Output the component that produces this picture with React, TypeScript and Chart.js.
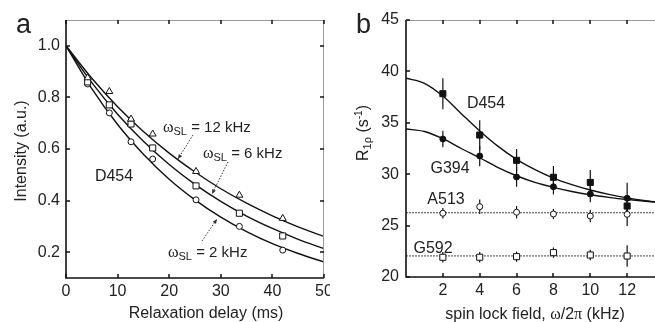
import React, { useEffect, useRef } from 'react';
import { Chart, registerables } from 'chart.js';
Chart.register(...registerables);

// ---------- Panel a data ----------
const delaysMs = [4.2, 8.4, 12.6, 16.8, 25.2, 33.6, 42];
const int12kHz = [0.876, 0.823, 0.716, 0.658, 0.513, 0.421, 0.331];
const int6kHz = [0.86, 0.771, 0.697, 0.604, 0.457, 0.351, 0.263];
const int2kHz = [0.852, 0.74, 0.628, 0.561, 0.403, 0.3, 0.208];
const fitDelaysMs = [0, 5, 10, 15, 20, 25, 30, 35, 40, 45, 50];
const fit12kHz = [1, 0.874, 0.764, 0.668, 0.584, 0.511, 0.446, 0.39, 0.341, 0.298, 0.261];
const fit6kHz = [1, 0.857, 0.735, 0.63, 0.54, 0.463, 0.397, 0.34, 0.292, 0.25, 0.214];
const fit2kHz = [1, 0.834, 0.695, 0.58, 0.483, 0.403, 0.336, 0.28, 0.233, 0.195, 0.162];
const xTicksA = [0, 10, 20, 30, 40, 50];
const yTicksA = [0.2, 0.4, 0.6, 0.8, 1.0];

// ---------- Panel b data ----------
const spinLockKHz = [2, 4, 6, 8, 10, 12];
const r1rhoD454 = [37.83, 33.81, 31.35, 29.7, 29.2, 26.9];
const errD454 = [1.5, 1.45, 1.1, 1.1, 1.2, 1.0];
const r1rhoG394 = [33.42, 31.77, 29.73, 28.78, 28.07, 27.66];
const errG394 = [0.8, 1.0, 0.95, 0.75, 0.8, 1.5];
const r1rhoA513 = [26.2, 26.84, 26.3, 26.13, 25.93, 26.1];
const errA513 = [0.5, 0.7, 0.6, 0.5, 0.6, 1.15];
const r1rhoG592 = [21.92, 21.92, 21.98, 22.37, 22.14, 22.04];
const errG592 = [0.5, 0.5, 0.5, 0.5, 0.5, 1.05];
const fitFieldKHz = [0, 1, 2, 3, 4, 5, 6, 7, 8, 9, 10, 11, 12, 13, 14];
const fitD454 = [39.33, 38.84, 37.6, 35.89, 34.21, 32.71, 31.45, 30.44, 29.62, 28.98, 28.46, 28.04, 27.7, 27.42, 27.19];
const fitG394 = [34.4, 34.15, 33.45, 32.5, 31.6, 30.65, 29.85, 29.2, 28.72, 28.32, 28.0, 27.75, 27.54, 27.37, 27.23];
const flatFieldKHz = [0, 14];
const flatA513 = [26.25, 26.25];
const flatG592 = [22.05, 22.05];
const xTicksB = [2, 4, 6, 8, 10, 12];
const yTicksB = [20, 25, 30, 35, 40, 45];

const FONT = '"Liberation Sans", Arial, Helvetica, sans-serif';
const SERIF = '"Liberation Serif", "DejaVu Serif", serif';
const TXT = '#222';

type Part = { t: string; size: number; dy?: number; font?: string };

function drawRich(ctx: CanvasRenderingContext2D, parts: Part[], x: number, y: number, align: 'left' | 'center') {
  let total = 0;
  const widths = parts.map((p) => {
    ctx.font = `${p.size}px ${p.font || FONT}`;
    const w = ctx.measureText(p.t).width;
    total += w;
    return w;
  });
  let cx = align === 'center' ? x - total / 2 : x;
  ctx.textAlign = 'left';
  ctx.textBaseline = 'alphabetic';
  parts.forEach((p, i) => {
    ctx.font = `${p.size}px ${p.font || FONT}`;
    ctx.fillText(p.t, cx, y + (p.dy || 0));
    cx += widths[i];
  });
}

function pts(xs: number[], ys: number[]) {
  return xs.map((x, i) => ({ x, y: ys[i] }));
}

const boxPlugin = (showRight: boolean) => ({
  id: 'boxTicks',
  afterDatasetsDraw(chart: any) {
    const { ctx, chartArea, scales } = chart;
    const { left, right, top, bottom } = chartArea;
    const x = scales.x;
    const y = scales.y;
    ctx.save();
    ctx.strokeStyle = '#9a9a9a';
    ctx.lineWidth = 1;
    ctx.beginPath();
    ctx.moveTo(left, top + 0.5);
    ctx.lineTo(right, top + 0.5);
    if (showRight) {
      ctx.moveTo(right - 0.5, top);
      ctx.lineTo(right - 0.5, bottom);
    }
    ctx.stroke();
    ctx.strokeStyle = '#111';
    ctx.lineWidth = 1.5;
    ctx.beginPath();
    x.ticks.forEach((t: any) => {
      const px = Math.round(x.getPixelForValue(t.value));
      ctx.moveTo(px, bottom);
      ctx.lineTo(px, bottom - 4);
      ctx.moveTo(px, top);
      ctx.lineTo(px, top + 4);
    });
    y.ticks.forEach((t: any) => {
      const py = Math.round(y.getPixelForValue(t.value));
      ctx.moveTo(left, py);
      ctx.lineTo(left + 4, py);
      ctx.moveTo(right, py);
      ctx.lineTo(right - 4, py);
    });
    ctx.stroke();
    ctx.lineWidth = 1.6;
    ctx.beginPath();
    ctx.moveTo(left, top);
    ctx.lineTo(left, bottom);
    ctx.lineTo(right, bottom);
    ctx.stroke();
    ctx.restore();
  },
});

const errorBarPlugin = {
  id: 'errorBars',
  beforeDatasetsDraw(chart: any) {
    const { ctx, scales } = chart;
    ctx.save();
    ctx.strokeStyle = '#111';
    ctx.lineWidth = 1.2;
    chart.data.datasets.forEach((ds: any) => {
      if (!ds.errorBars) return;
      ds.data.forEach((d: any, j: number) => {
        const e = ds.errorBars[j];
        const px = scales.x.getPixelForValue(d.x);
        ctx.beginPath();
        ctx.moveTo(px, scales.y.getPixelForValue(d.y - e));
        ctx.lineTo(px, scales.y.getPixelForValue(d.y + e));
        ctx.stroke();
      });
    });
    ctx.restore();
  },
};

function leader(ctx: CanvasRenderingContext2D, x0: number, y0: number, x1: number, y1: number) {
  ctx.save();
  ctx.strokeStyle = '#333';
  ctx.lineWidth = 1;
  ctx.setLineDash([1.5, 1.5]);
  ctx.beginPath();
  ctx.moveTo(x0, y0);
  ctx.lineTo(x1, y1);
  ctx.stroke();
  ctx.setLineDash([]);
  const a = Math.atan2(y1 - y0, x1 - x0);
  ctx.fillStyle = '#333';
  ctx.beginPath();
  ctx.moveTo(x1, y1);
  ctx.lineTo(x1 - 5 * Math.cos(a - 0.4), y1 - 5 * Math.sin(a - 0.4));
  ctx.lineTo(x1 - 5 * Math.cos(a + 0.4), y1 - 5 * Math.sin(a + 0.4));
  ctx.closePath();
  ctx.fill();
  ctx.restore();
}

const textPluginA = {
  id: 'textA',
  afterDraw(chart: any) {
    const ctx = chart.ctx as CanvasRenderingContext2D;
    ctx.save();
    ctx.fillStyle = TXT;
    drawRich(ctx, [{ t: 'a', size: 27 }], 16, 33, 'left');
    drawRich(ctx, [{ t: 'D454', size: 16 }], 114, 181, 'center');
    const om = (v: string): Part[] => [
      { t: 'ω', size: 16, font: SERIF },
      { t: 'SL', size: 11, dy: 3 },
      { t: ` = ${v} kHz`, size: 15 },
    ];
    drawRich(ctx, om('12'), 163, 132, 'left');
    drawRich(ctx, om('6'), 203, 158, 'left');
    drawRich(ctx, om('2'), 168, 257, 'left');
    leader(ctx, 193, 135, 178, 159);
    leader(ctx, 228, 162, 212, 194);
    leader(ctx, 202, 241, 217, 219);
    drawRich(ctx, [{ t: 'Relaxation delay (ms)', size: 16 }], 206, 318, 'center');
    ctx.translate(26, 151);
    ctx.rotate(-Math.PI / 2);
    drawRich(ctx, [{ t: 'Intensity (a.u.)', size: 16 }], 0, 0, 'center');
    ctx.restore();
  },
};

const OFFB = 330;
const textPluginB = {
  id: 'textB',
  afterDraw(chart: any) {
    const ctx = chart.ctx as CanvasRenderingContext2D;
    ctx.save();
    ctx.fillStyle = TXT;
    drawRich(ctx, [{ t: 'b', size: 27 }], 356 - OFFB, 33, 'left');
    drawRich(ctx, [{ t: 'D454', size: 16 }], 486 - OFFB, 108, 'center');
    drawRich(ctx, [{ t: 'G394', size: 16 }], 450 - OFFB, 173, 'center');
    drawRich(ctx, [{ t: 'A513', size: 16 }], 446 - OFFB, 204, 'center');
    drawRich(ctx, [{ t: 'G592', size: 16 }], 433 - OFFB, 253, 'center');
    drawRich(
      ctx,
      [
        { t: 'spin lock field, ', size: 16 },
        { t: 'ω', size: 16, font: SERIF },
        { t: '/2', size: 16 },
        { t: 'π', size: 16, font: SERIF },
        { t: ' (kHz)', size: 16 },
      ],
      535 - OFFB,
      319,
      'center'
    );
    ctx.translate(368 - OFFB, 133);
    ctx.rotate(-Math.PI / 2);
    drawRich(
      ctx,
      [
        { t: 'R', size: 16 },
        { t: '1ρ', size: 11, dy: 3 },
        { t: ' (s', size: 16 },
        { t: '-1', size: 10, dy: -6 },
        { t: ')', size: 16 },
      ],
      0,
      0,
      'center'
    );
    ctx.restore();
  },
};

function axisCommon(ticksArr: number[], fmt: (v: number) => string, pad: number) {
  return {
    type: 'linear' as const,
    afterBuildTicks: (s: any) => {
      s.ticks = ticksArr.map((v) => ({ value: v }));
    },
    grid: { display: false, drawTicks: false },
    border: { display: false },
    ticks: {
      font: { family: FONT, size: 16 },
      color: TXT,
      padding: pad,
      maxRotation: 0,
      autoSkip: false,
      callback: (v: any) => fmt(Number(v)),
    },
  };
}

const openMarker = (style: string, r: number) => ({
  pointStyle: style,
  pointRadius: r,
  pointBackgroundColor: '#fff',
  pointBorderColor: '#111',
  pointBorderWidth: 1,
  showLine: false,
  borderColor: '#111',
});
const filledMarker = (style: string, r: number) => ({
  pointStyle: style,
  pointRadius: r,
  pointBackgroundColor: '#111',
  pointBorderColor: '#111',
  pointBorderWidth: 1,
  showLine: false,
  borderColor: '#111',
});
const curve = (extra: any = {}) => ({
  pointRadius: 0,
  borderColor: '#111',
  borderWidth: 1.4,
  showLine: true,
  cubicInterpolationMode: 'monotone',
  fill: false,
  ...extra,
});

export default function App() {
  const refA = useRef<HTMLCanvasElement>(null);
  const refB = useRef<HTMLCanvasElement>(null);

  useEffect(() => {
    const chartA = new Chart(refA.current!, {
      type: 'scatter',
      data: {
        datasets: [
          { label: '12 kHz', data: pts(delaysMs, int12kHz), ...openMarker('triangle', 4) },
          { label: '6 kHz', data: pts(delaysMs, int6kHz), ...openMarker('rect', 4.3) },
          { label: '2 kHz', data: pts(delaysMs, int2kHz), ...openMarker('circle', 3) },
          { label: 'fit 12', data: pts(fitDelaysMs, fit12kHz), ...curve() },
          { label: 'fit 6', data: pts(fitDelaysMs, fit6kHz), ...curve() },
          { label: 'fit 2', data: pts(fitDelaysMs, fit2kHz), ...curve() },
        ] as any,
      },
      options: {
        responsive: false,
        animation: false,
        devicePixelRatio: 1,
        layout: { padding: { top: 20, right: 21, left: 0, bottom: 0 } },
        plugins: { legend: { display: false }, tooltip: { enabled: false } },
        scales: {
          x: {
            ...axisCommon(xTicksA, (v) => String(v), 4),
            min: 0,
            max: 50,
            afterFit: (s: any) => {
              s.height = 44;
            },
          },
          y: {
            ...axisCommon(yTicksA, (v) => v.toFixed(1), 6),
            min: 0.1,
            max: 1.1,
            afterFit: (s: any) => {
              s.width = 66;
            },
          },
        } as any,
      },
      plugins: [boxPlugin(true), textPluginA],
    });

    const chartB = new Chart(refB.current!, {
      type: 'scatter',
      data: {
        datasets: [
          { label: 'D454', data: pts(spinLockKHz, r1rhoD454), errorBars: errD454, ...filledMarker('rect', 4.3) },
          { label: 'G394', data: pts(spinLockKHz, r1rhoG394), errorBars: errG394, ...filledMarker('circle', 3) },
          { label: 'A513', data: pts(spinLockKHz, r1rhoA513), errorBars: errA513, ...openMarker('circle', 3) },
          { label: 'G592', data: pts(spinLockKHz, r1rhoG592), errorBars: errG592, ...openMarker('rect', 4.3) },
          { label: 'fit D454', data: pts(fitFieldKHz, fitD454), ...curve() },
          { label: 'fit G394', data: pts(fitFieldKHz, fitG394), ...curve() },
          { label: 'A513 mean', data: pts(flatFieldKHz, flatA513), ...curve({ borderWidth: 1, borderColor: '#444', borderDash: [2, 1] }) },
          { label: 'G592 mean', data: pts(flatFieldKHz, flatG592), ...curve({ borderWidth: 1, borderColor: '#444', borderDash: [2, 1] }) },
        ] as any,
      },
      options: {
        responsive: false,
        animation: false,
        devicePixelRatio: 1,
        layout: { padding: { top: 20, right: 11, left: 0, bottom: 0 } },
        plugins: { legend: { display: false }, tooltip: { enabled: false } },
        scales: {
          x: {
            ...axisCommon(xTicksB, (v) => String(v), 4),
            min: 0,
            max: 14,
            afterFit: (s: any) => {
              s.height = 45;
            },
          },
          y: {
            ...axisCommon(yTicksB, (v) => String(v), 7),
            min: 20,
            max: 45,
            afterFit: (s: any) => {
              s.width = 76;
            },
          },
        } as any,
      },
      plugins: [errorBarPlugin, boxPlugin(true), textPluginB],
    });

    return () => {
      chartA.destroy();
      chartB.destroy();
    };
  }, []);

  return (
    <div
      style={{
        position: 'absolute',
        left: 0,
        top: 0,
        width: 655,
        height: 322,
        overflow: 'hidden',
        background: '#fff',
      }}
    >
      <div style={{ position: 'absolute', left: 0, top: 0, width: 330, height: 322, overflow: 'hidden' }}>
        <canvas ref={refA} width={345} height={322} style={{ position: 'absolute', left: 0, top: 0 }} />
      </div>
      <canvas ref={refB} width={345} height={322} style={{ position: 'absolute', left: 330, top: 0 }} />
    </div>
  );
}
